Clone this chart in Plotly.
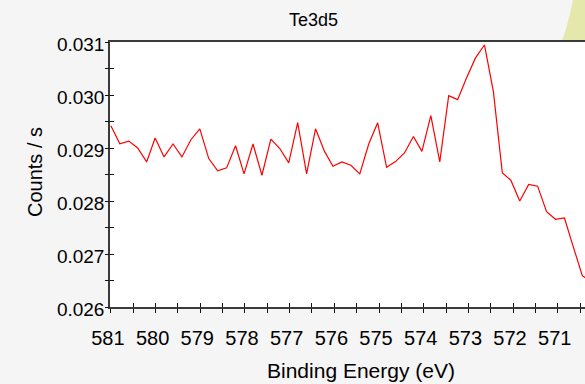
import plotly.graph_objects as go

# ---------------- data ----------------
energy = [581.00, 580.80, 580.60, 580.40, 580.20, 580.01, 579.81, 579.61, 579.41, 579.21,
          579.01, 578.81, 578.61, 578.41, 578.21, 578.02, 577.82, 577.62, 577.42, 577.22,
          577.02, 576.82, 576.62, 576.42, 576.22, 576.03, 575.83, 575.63, 575.43, 575.23,
          575.03, 574.83, 574.63, 574.43, 574.23, 574.04, 573.84, 573.64, 573.44, 573.24,
          573.04, 572.84, 572.64, 572.44, 572.24, 572.05, 571.85, 571.65, 571.45, 571.25,
          571.05, 570.85, 570.65, 570.45, 570.25]
counts = [0.029418, 0.029081, 0.029131, 0.029000, 0.028737, 0.029188, 0.028831, 0.029075, 0.028831, 0.029156,
          0.029362, 0.028800, 0.028568, 0.028625, 0.029043, 0.028512, 0.029075, 0.028486, 0.029169, 0.028990,
          0.028719, 0.029480, 0.028512, 0.029362, 0.028936, 0.028655, 0.028737, 0.028674, 0.028512, 0.029075,
          0.029475, 0.028636, 0.028743, 0.028906, 0.029218, 0.028936, 0.029612, 0.028737, 0.029987, 0.029912,
          0.030325, 0.030700, 0.030944, 0.030062, 0.028531, 0.028392, 0.028000, 0.028311, 0.028280, 0.027800,
          0.027655, 0.027679, 0.027130, 0.026591, 0.026470]

chart_title = "Te3d5"
x_title = "Binding Energy (eV)"
y_title = "Counts / s"

# ---------------- layout geometry ----------------
W, H = 585, 384
L, R, T, B = 110, 0, 42, 77
PW, PH = W - L - R, H - T - B
x_range = [581.02, 570.39]
y_range = [0.026, 0.031]

FONT = "Liberation Sans, Arial, sans-serif"
AXC = "#3a3a3a"
TKC = "#111111"

fig = go.Figure()
fig.add_trace(go.Scatter(x=energy, y=counts, mode="lines",
                         line=dict(color="#ff0000", width=1.2),
                         showlegend=False, hoverinfo="skip"))
# invisible copy so the overlay axes (crossing tick marks) are drawn
fig.add_trace(go.Scatter(x=energy, y=counts, mode="lines", xaxis="x2", yaxis="y2",
                         line=dict(color="rgba(0,0,0,0)", width=0),
                         showlegend=False, hoverinfo="skip"))

def px_x(p):
    return (p - L) / PW

def px_y(p):
    return (H - B - p) / PH

fig.update_layout(
    width=W, height=H,
    margin=dict(l=L, r=R, t=T, b=B, pad=0),
    paper_bgcolor="#f5f5f5",
    plot_bgcolor="#ffffff",
    font=dict(family=FONT, color="#000000"),
    xaxis=dict(range=x_range, tickmode="linear", tick0=571, dtick=1,
               ticks="outside", ticklen=4, tickwidth=1, tickcolor=TKC,
               minor=dict(tickmode="linear", tick0=571, dtick=0.5, ticks="outside",
                          ticklen=4, tickwidth=1, tickcolor=TKC),
               showline=True, linecolor=AXC, linewidth=1.5, mirror=True,
               showgrid=False, zeroline=False, tickformat="d",
               tickfont=dict(size=20, family=FONT, color="#000"),
               ticklabelstandoff=8, ticklabelshift=3),
    xaxis2=dict(range=x_range, overlaying="x", side="bottom", anchor="y",
                tickmode="linear", tick0=571, dtick=1,
                ticks="inside", ticklen=4, tickwidth=1, tickcolor=TKC,
                minor=dict(tickmode="linear", tick0=571, dtick=0.5, ticks="inside",
                           ticklen=4, tickwidth=1, tickcolor=TKC),
                showline=False, showgrid=False, zeroline=False, showticklabels=False),
    yaxis=dict(range=y_range, tickmode="linear", tick0=0.026, dtick=0.001,
               ticks="inside", ticklen=4, tickwidth=1, tickcolor=TKC,
               minor=dict(tickmode="linear", tick0=0.026, dtick=0.0005, ticks="inside",
                          ticklen=4, tickwidth=1, tickcolor=TKC),
               showline=True, linecolor=AXC, linewidth=1.5,
               showgrid=False, zeroline=False, tickformat=".3f",
               tickfont=dict(size=19, family=FONT, color="#000"),
               ticklabelshift=2),
    yaxis2=dict(range=y_range, overlaying="y", side="left", anchor="x",
                tickmode="linear", tick0=0.026, dtick=0.001,
                ticks="outside", ticklen=4, tickwidth=1, tickcolor=TKC,
                minor=dict(tickmode="linear", tick0=0.026, dtick=0.0005, ticks="outside",
                           ticklen=4, tickwidth=1, tickcolor=TKC),
                showline=False, showgrid=False, zeroline=False, showticklabels=False),
    annotations=[
        dict(text=chart_title, xref="paper", yref="paper", x=px_x(313), y=px_y(20),
             xanchor="center", yanchor="middle", showarrow=False,
             font=dict(size=18, family=FONT, color="#000")),
        dict(text=x_title, xref="paper", yref="paper", x=px_x(361), y=px_y(370),
             xanchor="center", yanchor="middle", showarrow=False,
             font=dict(size=21, family=FONT, color="#000")),
        dict(text=y_title, xref="paper", yref="paper", x=px_x(35), y=px_y(172),
             xanchor="center", yanchor="middle", showarrow=False, textangle=-90,
             font=dict(size=20, family=FONT, color="#000")),
    ],
    shapes=[
        dict(type="path", xref="paper", yref="paper", layer="below",
             path=f"M {px_x(585)},{px_y(0)} L {px_x(573)},{px_y(0)} Q {px_x(568)},{px_y(25)} {px_x(562)},{px_y(41)} L {px_x(585)},{px_y(41)} Z",
             fillcolor="rgba(214,222,110,0.55)", line=dict(width=0)),
    ],
)

fig.write_html("out.html")
